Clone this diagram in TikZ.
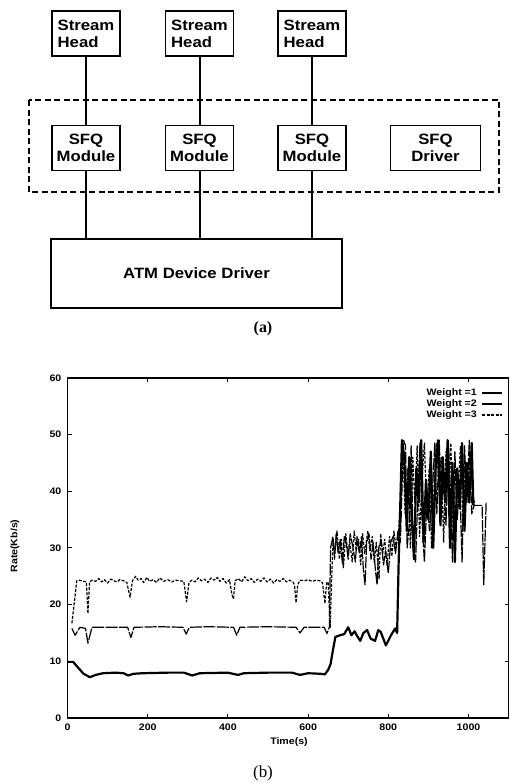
\documentclass[tikz,border=0pt]{standalone}
\usepackage{fontspec}
\usepackage{tikz}
\usetikzlibrary{positioning}
\newfontfamily\helv{Liberation Sans}[FakeStretch=1.12]
\newfontfamily\tms{Liberation Serif}
\tikzset{link/.style={draw, line width=2bp}}
\tikzset{wone/.style={line width=2.2bp, line join=round},
  wtwo/.style={line width=1.2bp, line join=round, dash pattern=on 12bp off 1.5bp},
  wthree/.style={line width=1.2bp, line join=round, dash pattern=on 3bp off 1.5bp}}

\begin{document}
\begin{tikzpicture}[x=1bp, y=-1bp,
  box/.style = {draw, line width=1.5bp, minimum width=68bp, minimum height=45bp, inner sep=0pt,
    font=\helv\bfseries\fontsize{15}{17}\selectfont},
  tick/.style = {font=\helv\bfseries\fontsize{9.5}{10}\selectfont, inner sep=1bp}]
\useasboundingbox (0,0) rectangle (510,783);

% (a) streams structure
\node[box, align=left] (sh1) at (86,33.5) {Stream\\Head};
\node[box, align=left] (sh2) [right=44bp of sh1] {Stream\\Head};
\node[box, align=left] (sh3) [right=43bp of sh2] {Stream\\Head};
\node[box, align=center] (sfq1) [below=68bp of sh1] {SFQ\\Module};
\node[box, align=center] (sfq2) [below=68bp of sh2] {SFQ\\Module};
\node[box, align=center] (sfq3) [below=68bp of sh3] {SFQ\\Module};
\node[box, align=center, minimum width=90bp] (drv) [right=43bp of sfq3] {SFQ\\Driver};
\node[box, minimum width=291bp, minimum height=69bp, anchor=north west] (atm)
  at ([xshift=-1bp, yshift=-67bp]sfq1.south west) {ATM Device Driver};
\draw[line width=1.5bp, dash pattern=on 6bp off 3.5bp] (29,100) rectangle (499,192);
\foreach \i in {1,2,3} {
  \draw[link] (sh\i) -- (sfq\i);
  \draw[link] (sfq\i) -- (sfq\i |- atm.north);
}
\node[font=\tms\bfseries\fontsize{16}{18}\selectfont] (capa) at (263,329) {(a)};

% (b) rate plot
\begin{scope}[shift={(67.5,718)}, x=0.401bp, y=5.67bp]
\draw[line width=1.5bp] (0,0) rectangle (1100,60);
\foreach \t in {0,200,...,1000} {
  \draw[line width=1bp] (\t,0) -- +(0,4bp) (\t,60) -- +(0,-4bp);
  \node[tick, anchor=north] (xl\t) at ([yshift=-5bp]\t,0) {\t};
}
\foreach \v in {0,10,...,60} {
  \draw[line width=1bp] (0,\v) -- +(4bp,0) (1100,\v) -- +(-4bp,0);
  \node[tick, anchor=east] (yl\v) at ([xshift=-5bp]0,\v) {\v};
}
% weight 1
\draw[wone] plot coordinates {(1,9.9) (14,9.9) (25,9) (40,7.8) (56,7.2) (70,7.6) (89,7.9) (120,8)
  (140,7.9) (151,7.5) (165,7.8) (188,7.9) (250,8) (290,8) (311,7.5) (330,7.9) (400,8) (425,7.6)
  (440,7.9) (500,8) (560,8) (580,7.6) (600,7.9) (630,7.8) (642,7.7) (650,8.5) (656,9.5) (662,12)
  (668,14.3) (680,14.6) (690,14.8) (700,16) (708,14.6) (716,15.3) (722,14.5) (730,13.6) (738,15)
  (747,15.5) (756,14) (767,13.6) (775,15.5) (781,15.2) (794,12.8) (806,14.5) (817,15.8) (822,15)
  (826,28) (830,38) (834,49) (840,46) (846,33) (852,46) (858,36) (864,28) (870,44) (876,38)
  (882,49) (888,31) (894,42) (900,35) (906,47) (912,30) (918,44) (924,49) (930,34) (936,46)
  (942,38) (948,49) (954,30) (960,45) (966,27.5) (972,44) (978,37) (984,48.5) (990,33) (996,45)
  (1002,38) (1008,48.5) (1012,37.5)};
% weight 2
\draw[wtwo] plot coordinates {(11,15.8) (19,14.6) (31,16) (45,15.8) (51,13.2) (61,16) (100,16)
  (150,16) (158,14.2) (166,16) (230,16.1) (288,16) (296,14.8) (304,16) (350,16.1) (414,16)
  (422,14.6) (430,16) (500,16.1) (570,16) (580,15) (590,16) (640,16) (647,14.9) (653,16)
  (656,30) (662,32) (666,28) (670,32.5) (675,29) (680,31.5) (686,27) (690,32) (695,31) (700,28)
  (705,32.5) (712,30) (718,27.5) (722,32) (728,29) (733,32) (738,26) (742,23.5) (746,31)
  (752,32.5) (757,28) (762,31) (768,26) (772,23.5) (776,30) (782,31.5) (788,27) (793,29.5)
  (800,25.5) (806,31) (812,32) (818,29) (824,33) (830,31) (838,49) (843,48) (847,30) (852,34)
  (857,48) (862,30) (868,27.5) (874,40) (879,48.5) (884,35) (890,27.5) (896,38) (903,33) (910,40)
  (916,48.5) (921,36) (927,49) (932,38) (938,41) (944,34) (950,48.5) (955,40) (960,27.5) (966,47)
  (972,35) (978,42) (984,27.5) (990,48) (996,38) (1002,49) (1008,36) (1014,37.5) (1034,37.5)
  (1038,23.5) (1044,38)};
% weight 3
\draw[wthree] plot coordinates {(11,16.7) (18,21) (23,24.2) (30,24.3) (40,24.1) (47,24) (51,18.4)
  (55,24) (61,24.3) (70,24.1) (78,24.6) (85,24) (92,24.4) (100,23.8) (108,24.5) (116,24.2)
  (124,24) (130,24.4) (140,24.2) (148,23.9) (156,21.3) (162,24.2) (170,25) (176,24.3) (184,24.6)
  (190,23.9) (198,24.8) (205,24.1) (214,24.4) (222,23.9) (230,24.7) (240,24.1) (250,24.4)
  (260,24) (270,24.3) (280,24.2) (290,24.1) (297,20.5) (303,23.9) (310,24.3) (318,24) (326,24.7)
  (334,24.2) (342,24.5) (350,23.9) (358,24.7) (366,24.3) (374,24.8) (380,24.1) (388,24.6)
  (396,23.8) (404,24.4) (410,21.8) (414,21) (418,24.2) (426,24.6) (434,24) (442,24.9) (450,24.2)
  (458,24.6) (466,23.9) (474,24.5) (482,24.1) (490,24.7) (498,24) (506,24.5) (514,23.8)
  (522,24.4) (530,24.1) (538,24.6) (546,24) (554,24.3) (562,24) (566,23.5) (570,20.3) (574,23.5)
  (580,24.3) (590,24.2) (600,24.4) (610,24.1) (620,24.3) (630,24.2) (636,23.8) (642,20.2)
  (646,23.8) (650,24) (655,16) (659,25) (662,31) (666,29) (672,33) (678,28) (683,31.5)
  (688,26.5) (694,32.5) (699,29) (704,31) (710,27.5) (715,33) (720,29.5) (726,31.5) (731,27)
  (736,32.5) (741,29) (749,33) (754,29.5) (760,32) (765,27.5) (770,31) (777,24.5) (781,32.5)
  (786,29) (791,31.5) (797,27) (803,32) (809,28.5) (814,33) (819,30) (826,33) (832,40)
  (836,48.5) (842,36) (849,44) (855,30) (861,46) (866,38) (872,48) (878,32) (884,42) (890,48.5)
  (896,36) (902,44) (908,30) (914,40) (920,48.5) (926,42) (932,46) (938,31) (944,47) (950,38)
  (956,48.5) (962,32) (968,44) (974,40) (980,48) (986,34) (992,45) (998,39) (1004,47)
  (1010,40) (1016,37.5)};
\end{scope}
\node[tick] (xlab) at (289,742) {Time(s)};
\node[tick, rotate=90] (ylab) at (15,546) {Rate(Kb/s)};
\node[tick, anchor=east] (lg1) at (478,393) {Weight =1};
\node[tick, anchor=east] (lg2) at (478,404) {Weight =2};
\node[tick, anchor=east] (lg3) at (478,415) {Weight =3};
\draw[wone, line width=1.5bp] ([xshift=4bp]lg1.east) -- +(20bp,0);
\draw[wtwo, solid] ([xshift=4bp]lg2.east) -- +(20bp,0);
\draw[wthree] ([xshift=4bp]lg3.east) -- +(20bp,0);
\node[font=\tms\fontsize{17}{19}\selectfont] (capb) at (263,773) {(b)};
\end{tikzpicture}
\end{document}
